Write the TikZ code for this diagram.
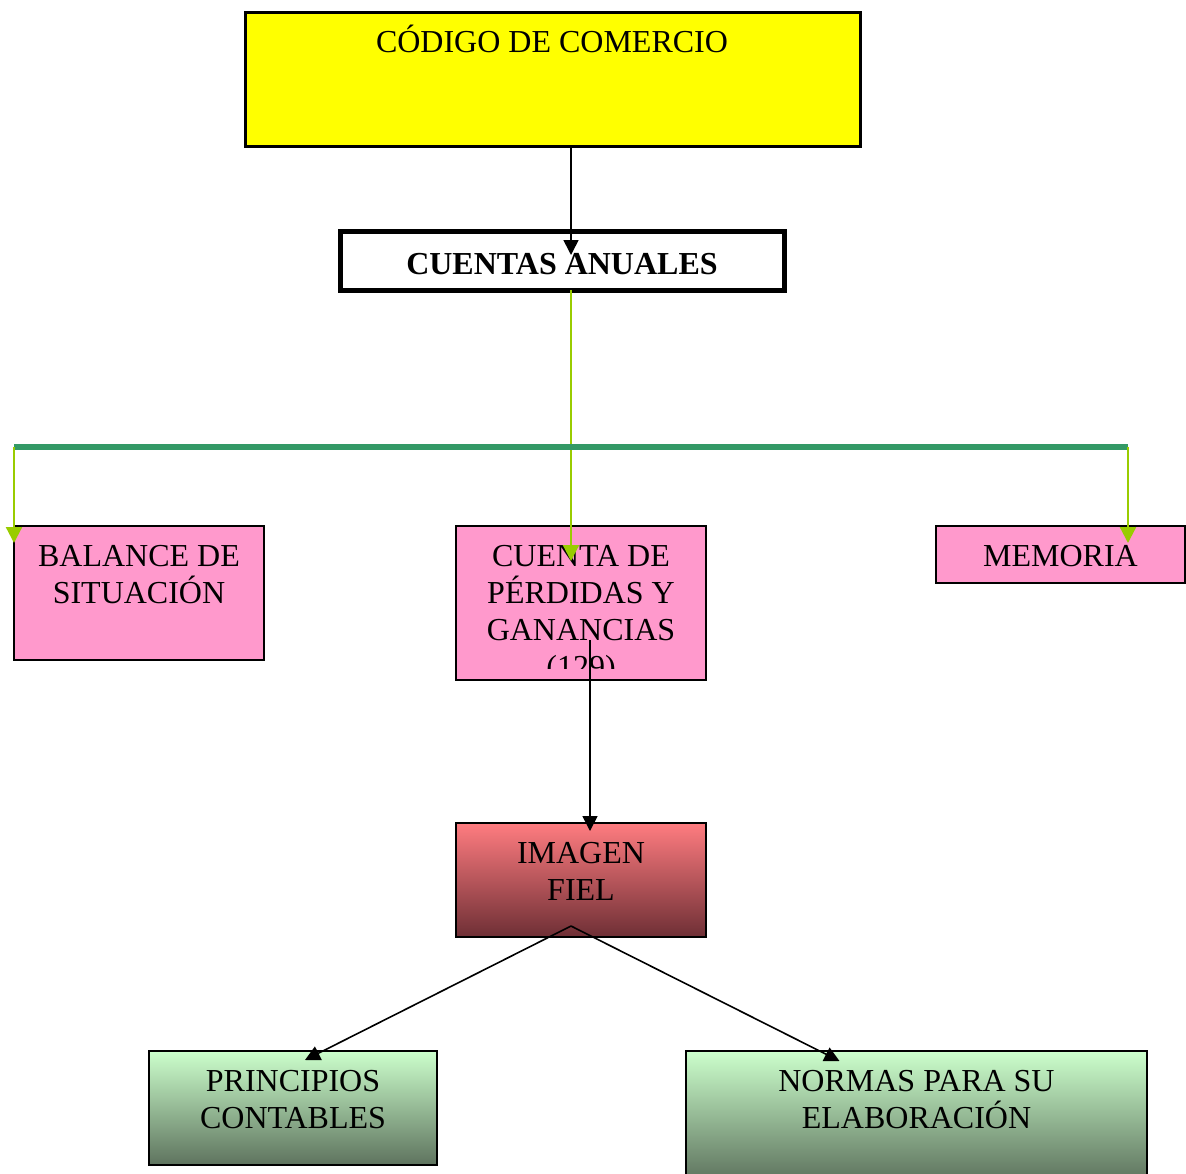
\documentclass[tikz,border=0pt]{standalone}
\usepackage{fontspec}
\setmainfont{Liberation Serif}
\usetikzlibrary{arrows.meta,calc}
\definecolor{pinkbox}{HTML}{FF99CC}
\definecolor{limeg}{HTML}{99CC00}
\definecolor{seag}{HTML}{339966}
\definecolor{yel}{HTML}{FFFF00}
\definecolor{redtop}{HTML}{FF7C80}
\definecolor{redbot}{HTML}{6E2F35}
\definecolor{grtop}{HTML}{CCFFCC}
\definecolor{grbot}{HTML}{5E735E}
\begin{document}
\begin{tikzpicture}[x=1pt,y=-1pt,
  box/.style={draw=black,line width=1.8pt,anchor=north west,inner sep=0pt,outer sep=0pt},
  txt/.style={font=\fontsize{32}{37}\selectfont,align=center,anchor=north,inner sep=0pt},
  blk/.style={draw=black,line width=1.6pt,-{Triangle[width=15pt,length=15pt]}},
  lim/.style={draw=limeg,line width=2.2pt,-{Triangle[width=16pt,length=16pt]}},
  bus/.style={draw=seag,line width=6pt}]
\useasboundingbox (0,0) rectangle (1186,1173);
\newcommand{\topstrut}{\rule{0pt}{30pt}}

% boxes
\node[box,fill=yel,line width=3pt,minimum width=615pt,minimum height=134pt] (codigo) at (245,12) {};
\node[box,fill=white,line width=5pt,minimum width=444pt,minimum height=59pt] (cuentas) at (340,231) {};
\node[box,fill=pinkbox,minimum width=250pt,minimum height=134pt] (balance) at (14,526) {};
\node[box,fill=pinkbox,minimum width=250pt,minimum height=154pt] (perdidas) at (456,526) {};
\node[box,fill=pinkbox,minimum width=249pt,minimum height=57pt] (memoria) at (936,526) {};
\node[box,top color=redtop,bottom color=redbot,minimum width=250pt,minimum height=114pt] (imagen) at (456,823) {};
\node[box,top color=grtop,bottom color=grbot,minimum width=288pt,minimum height=114pt] (principios) at (149,1051) {};
\node[box,top color=grtop,bottom color=grbot,minimum width=461pt,minimum height=130pt] (normas) at (686,1051) {};

% texts
\node[txt] (tcodigo) at (552,22) {\topstrut CÓDIGO DE COMERCIO};
\node[txt,font=\fontsize{32}{37}\selectfont\bfseries] (tcuentas) at (562,244) {\topstrut CUENTAS ANUALES};
\node[txt] (tbalance) at (139,536) {\topstrut BALANCE DE\\SITUACIÓN};
\begin{scope}
  \clip (456,526) rectangle (706,668);
  \node[txt] (tperdidas) at (581,536) {\topstrut CUENTA DE\\PÉRDIDAS Y\\GANANCIAS\\(129)};
\end{scope}
\node[txt] (tmemoria) at (1060.5,536) {\topstrut MEMORIA};
\node[txt] (timagen) at (581,833) {\topstrut IMAGEN\\FIEL};
\node[txt] (tprincipios) at (293,1061) {\topstrut PRINCIPIOS\\CONTABLES};
\node[txt] (tnormas) at (916.5,1061) {\topstrut NORMAS PARA SU\\ELABORACIÓN};

% connectors
\coordinate (busL) at (14,447);
\coordinate (busR) at (1128,447);
\coordinate (apex) at ($(imagen.south)+(-10,-11)$);
\draw[blk] ($(codigo.south)+(18.5,0)$) -- ($(cuentas.north)+(9,24)$);
\draw[lim] ($(cuentas.south)+(9,0)$) -- ($(perdidas.north)+(-10,35)$);
\draw[bus] (busL) -- (busR);
\draw[lim] (busL) -- ($(balance.north west)+(0,17)$);
\draw[lim] (busR) -- ($(memoria.north west)+(192,17)$);
\draw[blk] ($(perdidas.north)+(9,114)$) -- ($(imagen.north)+(9,8)$);
\draw[blk] (apex) -- ($(principios.north)+(12,9)$);
\draw[blk] (apex) -- ($(normas.north)+(-77,10)$);
\end{tikzpicture}
\end{document}
